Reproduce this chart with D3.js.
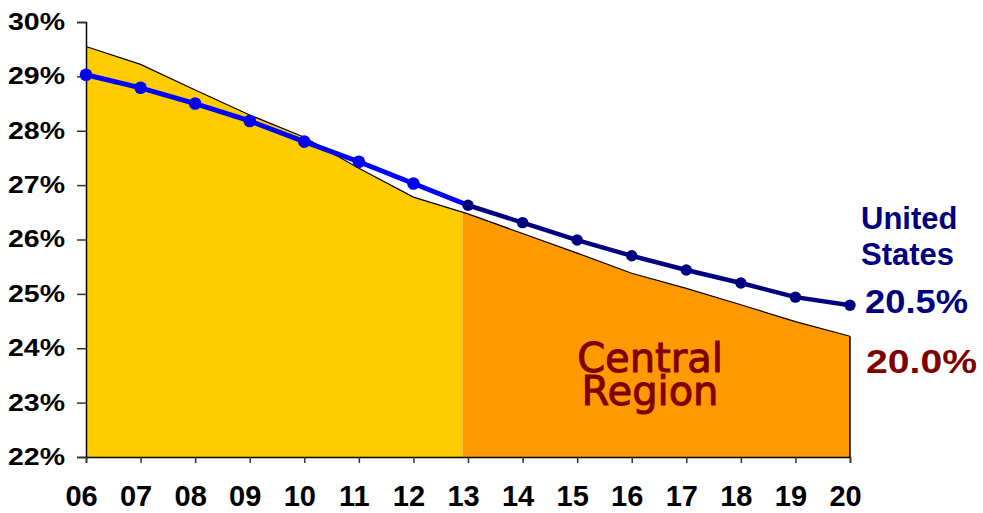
<!DOCTYPE html>
<html>
<head>
<meta charset="utf-8">
<script src="https://cdn.jsdelivr.net/npm/d3@7/dist/d3.min.js"></script>
<style>
  html, body { margin: 0; padding: 0; background: #fff; }
  svg { display: block; }
</style>
</head>
<body>
<svg id="chart" width="983" height="513"></svg>
<script>
// ---- data ----
const years = [6, 7, 8, 9, 10, 11, 12, 13, 14, 15, 16, 17, 18, 19, 20];
const yearLabels = ["06","07","08","09","10","11","12","13","14","15","16","17","18","19","20"];
const centralRegion = [29.55, 29.22, 28.75, 28.29, 27.88, 27.31, 26.78, 26.47, 26.11, 25.75, 25.38, 25.10, 24.80, 24.49, 24.22];
const unitedStates  = [29.03, 28.79, 28.50, 28.18, 27.80, 27.43, 27.03, 26.63, 26.31, 25.99, 25.70, 25.44, 25.20, 24.94, 24.79];
const yTicks = [22, 23, 24, 25, 26, 27, 28, 29, 30];
const yTickLabels = ["22%","23%","24%","25%","26%","27%","28%","29%","30%"];
const projectionStartYear = 12.9;   // where the shading changes to projection
const projectionStartIndex = 7;     // line colour changes at "13"
const usLabel = ["United", "States"];
const usFinal = "20.5%";
const centralFinal = "20.0%";
const centralLabel = ["Central", "Region"];

// ---- layout ----
const svg = d3.select("#chart");
const x = d3.scaleLinear().domain([6, 20]).range([86, 850]);
const y = d3.scaleLinear().domain([22, 30]).range([457, 22]);

const pts = years.map((yr, i) => ({ yr, c: centralRegion[i], u: unitedStates[i] }));

// clip paths for the two shading parts
const defs = svg.append("defs");
defs.append("clipPath").attr("id", "clipHist").append("rect")
  .attr("x", x(6)).attr("y", 0)
  .attr("width", x(projectionStartYear) - x(6)).attr("height", 513);
defs.append("clipPath").attr("id", "clipProj").append("rect")
  .attr("x", x(projectionStartYear)).attr("y", 0)
  .attr("width", x(20) - x(projectionStartYear) + 2).attr("height", 513);

const area = d3.area().x(d => x(d.yr)).y0(y(22)).y1(d => y(d.c));
svg.append("path").datum(pts).attr("d", area)
  .attr("fill", "#FFCC00").attr("clip-path", "url(#clipHist)");
svg.append("path").datum(pts).attr("d", area)
  .attr("fill", "#FF9900").attr("clip-path", "url(#clipProj)");

// top edge + right edge outline
const edge = d3.line().x(d => x(d.yr)).y(d => y(d.c));
svg.append("path").datum(pts).attr("d", edge)
  .attr("fill", "none").attr("stroke", "#000").attr("stroke-width", 1.2);
svg.append("line")
  .attr("x1", x(20)).attr("x2", x(20))
  .attr("y1", y(centralRegion[centralRegion.length - 1])).attr("y2", y(22))
  .attr("stroke", "#000").attr("stroke-width", 1.5);

// axes
const yAxis = d3.axisLeft(y).tickValues(yTicks).tickSize(9)
  .tickFormat((d, i) => yTickLabels[i]);
const gy = svg.append("g").attr("transform", `translate(${x(6)},0)`).call(yAxis);
gy.select(".domain").attr("stroke", "#000").attr("stroke-width", 1.5);
gy.selectAll(".tick line").attr("stroke", "#333").attr("stroke-width", 1.5);
gy.selectAll(".tick text")
  .attr("x", -21)
  .attr("font-family", "'Liberation Sans', Arial, sans-serif")
  .attr("font-weight", "bold").attr("font-size", 23).attr("fill", "#000")
  .attr("textLength", 57).attr("lengthAdjust", "spacingAndGlyphs");

const xAxis = d3.axisBottom(x).tickValues(years).tickSize(6)
  .tickFormat((d, i) => yearLabels[i]);
const gx = svg.append("g").attr("transform", `translate(0,${y(22)})`).call(xAxis);
gx.select(".domain").attr("stroke", "#000").attr("stroke-width", 1.5);
gx.selectAll(".tick line").attr("stroke", "#333").attr("stroke-width", 1.5);
gx.selectAll(".tick text")
  .attr("dy", 0).attr("y", 49).attr("dx", -5)
  .attr("font-family", "'Liberation Sans', Arial, sans-serif")
  .attr("font-weight", "bold").attr("font-size", 29).attr("fill", "#000");

// US line: historical (blue) and projected (navy)
const line = d3.line().x(d => x(d.yr)).y(d => y(d.u));
const hist = pts.slice(0, projectionStartIndex + 1);
const proj = pts.slice(projectionStartIndex);
svg.append("path").datum(hist).attr("d", line)
  .attr("fill", "none").attr("stroke", "#0000FF").attr("stroke-width", 5);
svg.append("path").datum(proj).attr("d", line)
  .attr("fill", "none").attr("stroke", "#000080").attr("stroke-width", 4.5);
svg.selectAll("circle.h").data(hist.slice(0, projectionStartIndex)).enter().append("circle")
  .attr("cx", d => x(d.yr)).attr("cy", d => y(d.u)).attr("r", 6.3).attr("fill", "#0000FF");
svg.selectAll("circle.p").data(proj).enter().append("circle")
  .attr("cx", d => x(d.yr)).attr("cy", d => y(d.u)).attr("r", 5.7).attr("fill", "#000080");

// labels
const arial = "'Liberation Sans', Arial, sans-serif";
svg.append("text").attr("x", 861).attr("y", 229).text(usLabel[0])
  .attr("font-family", arial).attr("font-weight", "bold").attr("font-size", 31).attr("fill", "#000080");
svg.append("text").attr("x", 861).attr("y", 265).text(usLabel[1])
  .attr("font-family", arial).attr("font-weight", "bold").attr("font-size", 31).attr("fill", "#000080");
svg.append("text").attr("x", 865).attr("y", 313).text(usFinal)
  .attr("font-family", arial).attr("font-weight", "bold").attr("font-size", 33).attr("fill", "#000080")
  .attr("textLength", 103).attr("lengthAdjust", "spacingAndGlyphs");
svg.append("text").attr("x", 866).attr("y", 373).text(centralFinal)
  .attr("font-family", arial).attr("font-weight", "bold").attr("font-size", 34).attr("fill", "#800000")
  .attr("textLength", 111).attr("lengthAdjust", "spacingAndGlyphs");

const dv = "'DejaVu Sans', Verdana, sans-serif";
const cl = svg.append("text").attr("text-anchor", "middle")
  .attr("font-family", dv).attr("font-size", 40).attr("fill", "#800000")
  .attr("stroke", "#800000").attr("stroke-width", 1);
cl.append("tspan").attr("x", 650).attr("y", 372).text(centralLabel[0]);
cl.append("tspan").attr("x", 650).attr("y", 405).text(centralLabel[1]);
</script>
</body>
</html>
